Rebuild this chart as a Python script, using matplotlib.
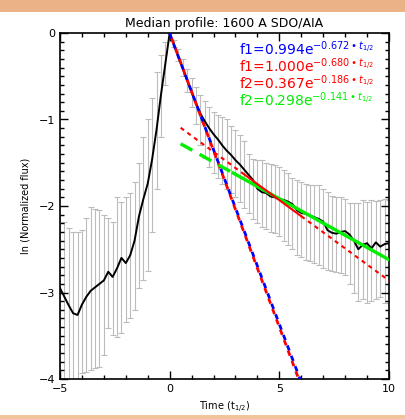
"""Median 1600 A profile with exponential decay fits."""
import numpy as np
import matplotlib
matplotlib.use("Agg")
import matplotlib.pyplot as plt
from matplotlib.patches import Rectangle
from matplotlib.ticker import MultipleLocator

# time in units of t_1/2
time = [-5.0, -4.8, -4.6, -4.4, -4.2, -4.0, -3.8, -3.6, -3.4, -3.2,
        -3.0, -2.8, -2.6, -2.4, -2.2, -2.0, -1.8, -1.6, -1.4, -1.2,
        -1.0, -0.8, -0.6, -0.4, -0.2, 0.0, 0.2, 0.4, 0.6, 0.8,
        1.0, 1.2, 1.4, 1.6, 1.8, 2.0, 2.2, 2.4, 2.6, 2.8,
        3.0, 3.2, 3.4, 3.6, 3.8, 4.0, 4.2, 4.4, 4.6, 4.8,
        5.0, 5.2, 5.4, 5.6, 5.8, 6.0, 6.2, 6.4, 6.6, 6.8,
        7.0, 7.2, 7.4, 7.6, 7.8, 8.0, 8.2, 8.4, 8.6, 8.8,
        9.0, 9.2, 9.4, 9.6, 9.8, 10.0]

# median ln(normalized flux)
median = [-2.95, -3.05, -3.15, -3.24, -3.26, -3.14, -3.05, -2.98, -2.94, -2.90,
          -2.86, -2.76, -2.82, -2.72, -2.60, -2.66, -2.57, -2.40, -2.12, -1.92,
          -1.74, -1.46, -1.12, -0.72, -0.36, 0.00, -0.14, -0.28, -0.41, -0.55,
          -0.68, -0.81, -0.93, -1.02, -1.10, -1.17, -1.23, -1.30, -1.36, -1.41,
          -1.47, -1.52, -1.58, -1.64, -1.70, -1.80, -1.84, -1.85, -1.89, -1.90,
          -1.92, -1.93, -1.95, -1.98, -2.05, -2.08, -2.09, -2.11, -2.13, -2.15,
          -2.18, -2.28, -2.31, -2.32, -2.30, -2.29, -2.33, -2.40, -2.50, -2.45,
          -2.43, -2.49, -2.42, -2.47, -2.44, -2.43]

# error bar ends
upper = [-2.10, -2.18, -2.25, -2.30, -2.30, -2.28, -2.14, -2.01, -2.03, -2.05,
         -2.10, -2.14, -2.18, -1.90, -1.95, -1.90, -1.85, -1.72, -1.50, -1.20,
         -1.00, -0.75, -0.45, -0.25, -0.10, 0.00, -0.08, -0.18, -0.30, -0.42,
         -0.52, -0.62, -0.72, -0.79, -0.86, -0.91, -0.95, -0.97, -1.00, -1.08,
         -1.12, -1.18, -1.25, -1.40, -1.46, -1.47, -1.47, -1.50, -1.52, -1.53,
         -1.55, -1.58, -1.62, -1.68, -1.70, -1.72, -1.74, -1.76, -1.76, -1.76,
         -1.80, -1.84, -1.88, -1.90, -1.90, -1.92, -1.96, -1.96, -1.97, -1.93,
         -1.95, -1.93, -1.94, -1.93, -1.92, -1.93]

lower = [-4.30, -4.35, -4.40, -4.45, -4.40, -3.93, -3.92, -3.90, -3.87, -3.86,
         -3.72, -3.41, -3.49, -3.51, -3.47, -3.34, -3.30, -3.20, -2.95, -2.85,
         -2.75, -2.30, -1.80, -1.20, -0.60, 0.00, -0.16, -0.32, -0.50, -0.68,
         -0.85, -1.05, -1.30, -1.45, -1.55, -1.62, -1.68, -1.74, -1.80, -1.85,
         -1.90, -1.95, -2.02, -2.08, -2.15, -2.20, -2.24, -2.27, -2.30, -2.31,
         -2.35, -2.40, -2.45, -2.50, -2.57, -2.59, -2.62, -2.64, -2.66, -2.68,
         -2.72, -2.74, -2.75, -2.76, -2.78, -2.80, -2.90, -3.00, -3.10, -3.08,
         -3.12, -3.10, -3.08, -3.05, -3.12, -3.10]

# fit parameters: f = a * exp(-b * t)
f1_blue = (0.994, 0.672)
f1_red = (1.000, 0.680)
f2_red = (0.367, 0.186)
f2_green = (0.298, 0.141)

t = np.array(time)
m = np.array(median)
yerr = [m - np.array(lower), np.array(upper) - m]

fig = plt.figure(figsize=(4.06, 4.19), dpi=100)
fig.patch.set_facecolor("white")
# orange strips from the slide background
fig.patches.append(Rectangle((0, 1 - 12 / 419), 1, 12 / 419, transform=fig.transFigure,
                             facecolor="#eab286", edgecolor="none", zorder=0))
fig.patches.append(Rectangle((0, 0), 1, 4 / 419, transform=fig.transFigure,
                             facecolor="#f2c49a", edgecolor="none", zorder=0))

ax = fig.add_axes([60 / 406, 40 / 419, 329 / 406, 346 / 419])

ax.errorbar(t, m, yerr=yerr, fmt="none", ecolor="#bcbcbc", elinewidth=0.8,
            capsize=2, capthick=0.8, zorder=1)
ax.plot(t, m, color="black", lw=1.4, zorder=3)


def lnfit(p, tt):
    return np.log(p[0]) - p[1] * tt


tf1 = np.linspace(0, 6.2, 50)
ax.plot(tf1, lnfit(f1_blue, tf1), color="blue", lw=2, ls=(0, (2, 2)), zorder=4)
ax.plot(tf1, lnfit(f1_red, tf1), color="red", lw=2, ls=(2, (2, 2)), zorder=4)

# green: dashed outside fit range, solid inside
tg1 = np.linspace(0.5, 2.9, 20)
tg2 = np.linspace(2.9, 10, 20)
ax.plot(tg1, lnfit(f2_green, tg1), color="#00ee00", lw=2.4, ls=(0, (4, 2.5)), zorder=5)
ax.plot(tg2, lnfit(f2_green, tg2), color="#00ee00", lw=2.4, zorder=5)

tr1 = np.linspace(0.5, 3.4, 20)
tr2 = np.linspace(3.4, 6.0, 20)
tr3 = np.linspace(6.0, 10, 20)
ax.plot(tr1, lnfit(f2_red, tr1), color="red", lw=1.5, ls=(0, (2, 2)), zorder=6)
ax.plot(tr2, lnfit(f2_red, tr2), color="red", lw=1.5, zorder=6)
ax.plot(tr3, lnfit(f2_red, tr3), color="red", lw=1.5, ls=(0, (2, 2)), zorder=6)

ax.set_xlim(-5, 10)
ax.set_ylim(-4, 0)
ax.xaxis.set_major_locator(MultipleLocator(5))
ax.xaxis.set_minor_locator(MultipleLocator(1))
ax.yaxis.set_major_locator(MultipleLocator(1))
ax.yaxis.set_minor_locator(MultipleLocator(0.1))
ax.tick_params(which="both", direction="in", top=True, right=True, labelsize=8, width=1)
ax.tick_params(which="major", length=6)
ax.tick_params(which="minor", length=3)
for s in ax.spines.values():
    s.set_linewidth(1.2)

ax.set_title("Median profile: 1600 A SDO/AIA", fontsize=9, pad=4)
ax.set_xlabel(r"Time (t$_{1/2}$)", fontsize=7, labelpad=4)
ax.set_ylabel("ln (Normalized flux)", fontsize=7, labelpad=6)

labels = [("f1", f1_blue, "blue"), ("f1", f1_red, "red"),
          ("f2", f2_red, "red"), ("f2", f2_green, "#00ee00")]
for i, (name, p, c) in enumerate(labels):
    ax.text(0.545, 0.955 - i * 0.049,
            rf"{name}={p[0]:.3f}e$^{{-{p[1]:.3f}\bullet t_{{1/2}}}}$",
            transform=ax.transAxes, color=c, fontsize=10, va="center", ha="left")

fig.savefig("out.png", dpi=100)
